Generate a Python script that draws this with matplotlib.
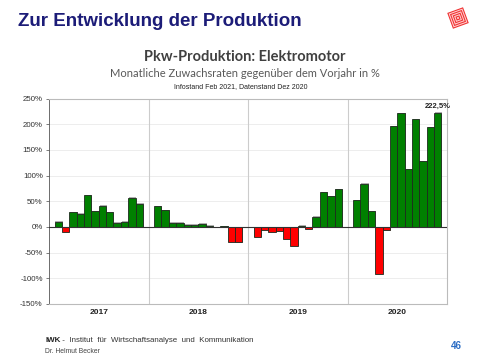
import matplotlib.pyplot as plt
import numpy as np
from matplotlib.patches import Polygon

# monthly growth rates vs. previous year, %
YEARS = ["2017", "2018", "2019", "2020"]
RATES_2017 = [10, -10, 28.5, 26, 61.5, 31, 41, 28.5, 8, 10, 56.5, 45.5]
RATES_2018 = [40, 32.5, 8, 8, 4, 4, 6, 2, -1, 1, -29, -30]
RATES_2019 = [-19.5, -5, -10, -8, -23, -37, 2, -4, 20, 67.5, 60, 74]
RATES_2020 = [52.5, 84, 31, -91, -6.5, 196, 221, 112, 210, 128.5, 194, 222.5]
YTICKS = [-150, -100, -50, 0, 50, 100, 150, 200, 250]
LAST_LABEL = "222,5%"

GREEN, RED = "#008000", "#ff0000"
NAVY = "#1c1c78"
SLOT = 13.5  # month slots per year block (12 bars + gaps)

fig = plt.figure(figsize=(4.8, 3.6), dpi=100, facecolor="white")
ax = fig.add_axes([49 / 480, 1 - 304 / 360, 398 / 480, 205.5 / 360])

rates = [RATES_2017, RATES_2018, RATES_2019, RATES_2020]
for k, vals in enumerate(rates):
    x = k * SLOT + 0.75 + np.arange(len(vals)) + 0.5
    v = np.array(vals)
    cols = [GREEN if a >= 0 else RED for a in v]
    ax.bar(x + 0.12, v + np.sign(v) * 0.8, width=1.0, color="#b0b0b0", zorder=2, linewidth=0)
    ax.bar(x, v, width=1.0, color=cols, edgecolor="#1e2a1e", linewidth=0.6, zorder=3)

ax.set_xlim(0, SLOT * len(YEARS))
ax.set_ylim(-150, 250)
ax.set_yticks(YTICKS, [f"{t}%" for t in YTICKS], fontsize=5.7, color="#333333",
              family="Liberation Sans")
ax.tick_params(axis="y", length=2.5, width=0.6, color="#666666", pad=2)
ax.set_xticks([])
for t in YTICKS:
    ax.axhline(t, color="#e6e6e6", linewidth=0.5, zorder=0)
for k in range(1, len(YEARS)):
    ax.axvline(k * SLOT, color="#cccccc", linewidth=0.8, zorder=1)
ax.axhline(0, color="#333333", linewidth=0.8, zorder=4)
for k, yr in enumerate(YEARS):
    ax.text((k + 0.5) * SLOT, -160, yr, ha="center", va="top", fontsize=6,
            fontweight="bold", color="#222222", family="Liberation Sans")
for side in ["top", "right", "bottom"]:
    ax.spines[side].set_color("#bbbbbb")
    ax.spines[side].set_linewidth(0.8)
ax.spines["left"].set_color("#555555")
ax.spines["left"].set_linewidth(0.6)

last_x = 3 * SLOT + 0.75 + 11.5
ax.text(last_x, RATES_2020[-1] + 5, LAST_LABEL, ha="center", va="bottom", fontsize=5.5,
        fontweight="bold", color="#222222", family="Liberation Sans", clip_on=False)

fig.text(18 / 480, 1 - 22 / 360, "Zur Entwicklung der Produktion", fontsize=13.5,
         fontweight="bold", color=NAVY, family="Liberation Sans", va="center")
fig.text(245 / 480, 1 - 57 / 360, "Pkw-Produktion: Elektromotor", fontsize=10.5,
         fontweight="bold", color="#404040", family="Lato", ha="center", va="center")
fig.text(245 / 480, 1 - 73.5 / 360, "Monatliche Zuwachsraten gegenüber dem Vorjahr in %",
         fontsize=8, color="#595959", family="Lato", ha="center", va="center")
fig.text(241 / 480, 1 - 87 / 360, "Infostand Feb 2021, Datenstand Dez 2020",
         fontsize=5, color="#222222", family="Liberation Sans", ha="center", va="center")

fig.text(45 / 480, 1 - 340.5 / 360, "IWK", fontsize=5.8, fontweight="bold",
         color="#222222", family="Liberation Sans", va="center")
fig.text(60 / 480, 1 - 340.5 / 360, " -  Institut  für  Wirtschaftsanalyse  und  Kommunikation",
         fontsize=5.7, color="#333333", family="Liberation Sans", va="center")
fig.text(45 / 480, 1 - 351.5 / 360, "Dr. Helmut Becker", fontsize=4.9, color="#444444",
         family="Liberation Sans", va="center")
fig.text(456 / 480, 1 - 346 / 360, "46", fontsize=7, fontweight="bold", color="#2a6cc4",
         family="Liberation Sans", ha="center", va="center")

# small red maze-like logo, top right
lax = fig.add_axes([446 / 480, 1 - 30 / 360, 24 / 480, 24 / 360])
lax.set_xlim(-1, 1)
lax.set_ylim(-1, 1)
lax.axis("off")
ang = np.deg2rad(20)
rot = np.array([[np.cos(ang), -np.sin(ang)], [np.sin(ang), np.cos(ang)]])
for i, s in enumerate(np.linspace(0.7, 0.08, 8)):
    sq = np.array([[-s, -s], [s, -s], [s, s], [-s, s]]) @ rot.T
    lax.add_patch(Polygon(sq, closed=True, facecolor="#f03030" if i % 2 == 0 else "#ffd0d0",
                          edgecolor="none"))

fig.savefig("out.png", dpi=100, facecolor="white")
